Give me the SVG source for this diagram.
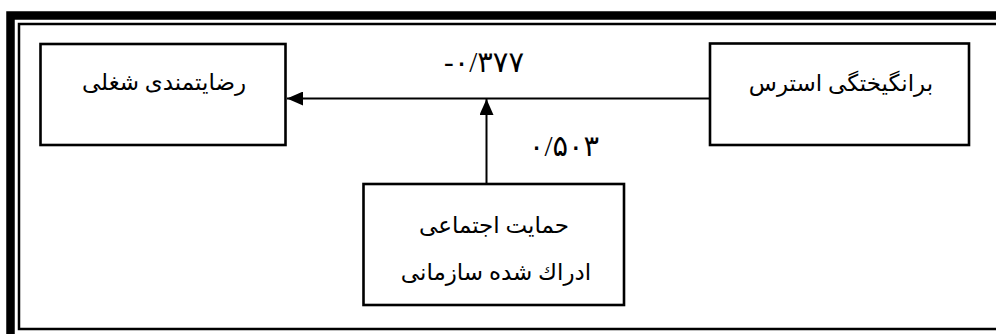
<svg xmlns="http://www.w3.org/2000/svg" width="996" height="334" viewBox="0 0 996 334">
  <style>
    .box { fill: #ffffff; stroke: #000000; stroke-width: 2.6; }
    .conn { fill: none; stroke: #000000; stroke-width: 2; }
    .lbl { font-family: "Liberation Serif", "DejaVu Sans", serif; font-size: 23px; fill: #000000; text-anchor: middle; }
    .num { font-family: "Liberation Serif", "DejaVu Sans", serif; font-size: 29px; fill: #000000; text-anchor: middle; direction: ltr; }
  </style>
  <defs>
    <marker id="arrow" viewBox="0 0 16 14" refX="16" refY="7" markerWidth="16" markerHeight="14" markerUnits="userSpaceOnUse" orient="auto">
      <path d="M0,0 L16,7 L0,14 Z" fill="#000000"/>
    </marker>
  </defs>
  <rect width="996" height="334" fill="#ffffff"/>
  <g id="frame">
    <path d="M10.5,345 V15.5 H1010" fill="none" stroke="#000000" stroke-width="8.5"/>
    <path d="M1010,329 H19 V24 H1010" fill="none" stroke="#000000" stroke-width="2.5"/>
  </g>
  <g id="connectors">
    <line class="conn" x1="710" y1="98.5" x2="287" y2="98.5" marker-end="url(#arrow)"/>
    <line class="conn" x1="486.5" y1="184" x2="486.5" y2="99" marker-end="url(#arrow)"/>
  </g>
  <g id="node-job-satisfaction">
    <rect class="box" x="40.5" y="44" width="245" height="101"/>
    <text class="lbl" x="164" y="90">رضایتمندی شغلی</text>
  </g>
  <g id="node-stress">
    <rect class="box" x="710" y="43.5" width="259" height="101.5"/>
    <text class="lbl" x="841" y="91">برانگیختگی استرس</text>
  </g>
  <g id="node-support">
    <rect class="box" x="363.5" y="184" width="260.5" height="121"/>
    <text class="lbl" x="494" y="233">حمایت اجتماعی</text>
    <text class="lbl" x="496" y="280">ادراك شده سازمانی</text>
  </g>
  <g id="labels">
    <text class="num" x="484" y="72">-۰/۳۷۷</text>
    <text class="num" x="564" y="156">۰/۵۰۳</text>
  </g>
</svg>
